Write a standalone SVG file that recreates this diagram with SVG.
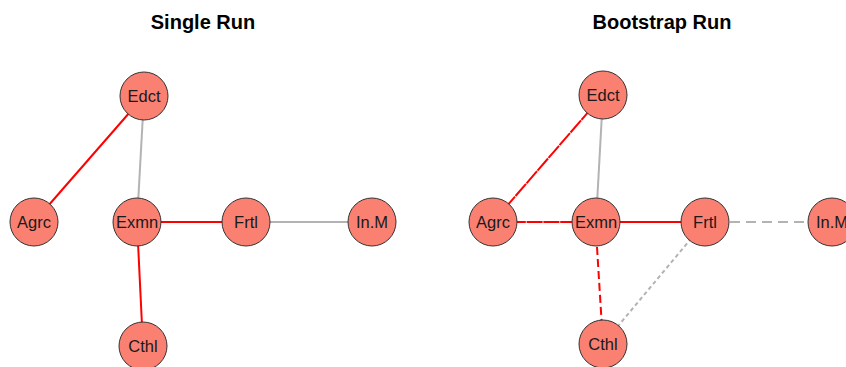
<svg xmlns="http://www.w3.org/2000/svg" width="846" height="367" viewBox="0 0 846 367">
  <style>
    .title { font-family: "Liberation Sans", Arial, sans-serif; font-size: 20px; font-weight: bold; fill: #000; text-anchor: middle; }
    .node circle { fill: #FA8072; stroke: #333; stroke-width: 1; }
    .node text { font-family: "Liberation Sans", Arial, sans-serif; font-size: 16.5px; fill: #1a1a1a; text-anchor: middle; dominant-baseline: central; }
    .e { fill: none; stroke-width: 2; }
    .red { stroke: #FF0000; }
    .grey { stroke: #B3B3B3; }
    .dash { stroke-dasharray: 10 6; }
    .rdash { stroke-dasharray: 8 4; }
    .dot { stroke-dasharray: 4 3; }
    .fine { stroke-dasharray: 16 0.8; }
  </style>

  <text class="title" x="203" y="29">Single Run</text>
  <text class="title" x="662" y="29">Bootstrap Run</text>

  <!-- edges, single run -->
  <g id="edges-single">
    <line class="e red" x1="144" y1="96" x2="34" y2="222"/>
    <line class="e grey" x1="144" y1="96" x2="137" y2="222"/>
    <line class="e red" x1="137" y1="222" x2="246" y2="222"/>
    <line class="e grey" x1="246" y1="222" x2="372" y2="222"/>
    <line class="e red" x1="137" y1="222" x2="143" y2="346"/>
  </g>

  <!-- edges, bootstrap run -->
  <g id="edges-bootstrap">
    <line class="e red fine" x1="603" y1="95" x2="493" y2="222"/>
    <line class="e grey" x1="603" y1="95" x2="596" y2="222"/>
    <line class="e red fine" x1="493" y1="222" x2="596" y2="222"/>
    <line class="e red" x1="596" y1="222" x2="705" y2="222"/>
    <line class="e grey dash" x1="730" y1="222" x2="832" y2="222"/>
    <line class="e red rdash" x1="597" y1="247" x2="603" y2="344"/>
    <line class="e grey dot" x1="705" y1="222" x2="603" y2="344"/>
  </g>

  <!-- nodes, single run -->
  <g id="s-edct" class="node"><circle cx="144" cy="96" r="24"/><text x="144" y="96">Edct</text></g>
  <g id="s-agrc" class="node"><circle cx="34" cy="222" r="24"/><text x="34" y="222">Agrc</text></g>
  <g id="s-exmn" class="node"><circle cx="137" cy="222" r="24"/><text x="137" y="222">Exmn</text></g>
  <g id="s-frtl" class="node"><circle cx="246" cy="222" r="24"/><text x="246" y="222">Frtl</text></g>
  <g id="s-inm" class="node"><circle cx="372" cy="222" r="24"/><text x="372" y="222">In.M</text></g>
  <g id="s-cthl" class="node"><circle cx="143" cy="346" r="24"/><text x="143" y="346">Cthl</text></g>

  <!-- nodes, bootstrap run -->
  <g id="b-edct" class="node"><circle cx="603" cy="95" r="24"/><text x="603" y="95">Edct</text></g>
  <g id="b-agrc" class="node"><circle cx="493" cy="222" r="24"/><text x="493" y="222">Agrc</text></g>
  <g id="b-exmn" class="node"><circle cx="596" cy="222" r="24"/><text x="596" y="222">Exmn</text></g>
  <g id="b-frtl" class="node"><circle cx="705" cy="222" r="24"/><text x="705" y="222">Frtl</text></g>
  <g id="b-inm" class="node"><circle cx="832" cy="222" r="24"/><text x="832" y="222">In.M</text></g>
  <g id="b-cthl" class="node"><circle cx="603" cy="344" r="24"/><text x="603" y="344">Cthl</text></g>
</svg>
